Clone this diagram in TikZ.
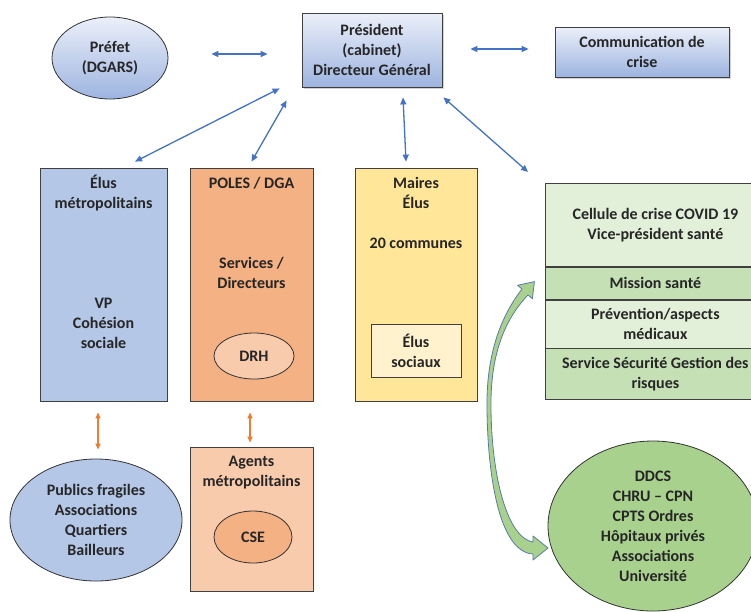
\documentclass[tikz,border=0pt]{standalone}
\usepackage{fontspec}
\setmainfont{Carlito}
\usetikzlibrary{arrows.meta}
\usetikzlibrary{shapes.geometric}
\usetikzlibrary{shadows}
\usetikzlibrary{positioning}

\definecolor{arrowblue}{HTML}{4472C4}
\definecolor{arroworange}{HTML}{ED7D31}
\definecolor{topblue}{HTML}{EBEFF9}
\definecolor{botblue}{HTML}{9DB4E0}
\definecolor{elusblue}{HTML}{B4C7E7}
\definecolor{polesorange}{HTML}{F4B183}
\definecolor{lightorange}{HTML}{F8CBAD}
\definecolor{mairesyellow}{HTML}{FFE699}
\definecolor{lightyellow}{HTML}{FFF2CC}
\definecolor{lightgreen}{HTML}{E2F0D9}
\definecolor{midgreen}{HTML}{C5E0B4}
\definecolor{santegreen}{HTML}{A9D18E}
\definecolor{curveline}{HTML}{5A7AA5}

\begin{document}
\begin{tikzpicture}[x=1pt,y=-1pt,
                    every node/.style={font=\fontsize{16}{20}\selectfont\bfseries,
                      align=center,
                      inner sep=0pt,
                      text=black!85},
                    box/.style={draw=black!75,
                      rectangle,
                      line width=0.8pt},
                    oval/.style={draw=black!80,
                      ellipse,
                      line width=0.8pt},
                    blueshade/.style={top color=topblue,
                      bottom color=botblue},
                    shadowed/.style={drop shadow={shadow xshift=1.5pt,
                      shadow yshift=-1.5pt,
                      opacity=0.35}},
                    stackbox/.style={box,
                      minimum width=220pt},
                    link/.style={arrowblue,
                      line width=1.3pt,
                      {Triangle[length=7pt,width=6pt]}-{Triangle[length=7pt,width=6pt]}},
                    orangelink/.style={arroworange,
                      line width=1.2pt,
                      {Triangle[length=6pt,width=5pt]}-{Triangle[length=6pt,width=5pt]}},
                    bigarrow/.style={fill=santegreen,
                      draw=curveline,
                      line width=0.8pt,
                      line join=round}]
\useasboundingbox (0,0) rectangle (751,611);
\fill[white] (0,0) rectangle (751,611);

\node (prefet) [oval, blueshade, minimum width=116pt, minimum height=82pt] at (110,58) {Préfet\\(DGARS)};
\node (pres) [box, blueshade, shadowed, minimum width=140pt, minimum height=74pt] at (372,50) {Président\\(cabinet)\\Directeur Général};
\node (comm) [box, blueshade, shadowed, minimum width=174pt, minimum height=50pt] at (642,52) {Communication de\\crise};

\node (elus) [box, fill=elusblue, minimum width=127pt, minimum height=233pt] at (103.5,284.5) {};
\node (elustop) at (103.5,193) {Élus\\métropolitains};
\node (vp) at (103.5,323) {VP\\Cohésion\\sociale};

\node (poles) [box, fill=polesorange, minimum width=123pt, minimum height=233pt] at (251.5,284.5) {};
\node (polestop) at (251.5,183) {POLES / DGA};
\node (services) at (251.5,273) {Services /\\Directeurs};
\node (drh) [oval, fill=lightorange, minimum width=80pt, minimum height=46pt] at (254,356) {DRH};

\node (maires) [box, fill=mairesyellow, minimum width=122pt, minimum height=233pt] at (416,284.5) {};
\node (mairestop) at (416,193) {Maires\\Élus};
\node (communes) at (416,243) {20 communes};
\node (sociaux) [box, fill=lightyellow, minimum width=90pt, minimum height=53pt] at (416,350.5) {Élus\\sociaux};

\node (cellule) [stackbox, fill=lightgreen, minimum height=83pt, anchor=north west] at (545,183) {Cellule de crise COVID 19\\Vice-président santé};
\node (mission) [stackbox, fill=midgreen, minimum height=32pt, below=0pt of cellule] {Mission santé};
\node (prevention) [stackbox, fill=lightgreen, minimum height=48pt, below=0pt of mission] {Prévention/aspects\\médicaux};
\node (securite) [stackbox, fill=midgreen, minimum height=51pt, below=0pt of prevention] {Service Sécurité Gestion des\\risques};

\node (publics) [oval, fill=elusblue, minimum width=172pt, minimum height=122pt] at (96,520) {Publics fragiles\\Associations\\Quartiers\\Bailleurs};
\node (agents) [box, fill=lightorange, minimum width=123pt, minimum height=144pt] at (251.5,519) {};
\node (agentstop) at (251.5,473) {Agents\\métropolitains};
\node (cse) [oval, fill=polesorange, minimum width=78pt, minimum height=52pt] at (253,537) {CSE};

\node (partenaires) [oval, fill=santegreen, minimum width=210pt, minimum height=170pt] at (653,526) {DDCS\\CHRU – CPN\\CPTS Ordres\\Hôpitaux privés\\Associations\\Université};

\draw[link] ([xshift=43pt,yshift=4pt]prefet.east) -- ([xshift=-34pt,yshift=-4pt]pres.west);
\draw[link] ([xshift=28pt,yshift=1pt]pres.east) -- ([xshift=-26pt,yshift=3pt]comm.west);
\draw[link] ([xshift=-22pt,yshift=-1pt]pres.south west) -- ([xshift=31.5pt,yshift=6pt]elus.north);
\draw[link] ([xshift=-15pt,yshift=-13pt]pres.south west) -- ([yshift=6pt]poles.north);
\draw[link] ([xshift=31pt,yshift=-10pt]pres.south) -- ([xshift=-10pt,yshift=6pt]maires.north);
\draw[link] ([xshift=1pt,yshift=-10pt]pres.south east) -- ([xshift=-17pt,yshift=11pt]cellule.north west);

\draw[orangelink] ([xshift=-5.5pt,yshift=-11pt]elus.south) -- ([xshift=2pt,yshift=9pt]publics.north);
\draw[orangelink] ([xshift=-1.5pt,yshift=-11pt]poles.south) -- ([xshift=-1.5pt,yshift=4pt]agents.north);

\draw[bigarrow] (534.4,281.6) -- (517.6,285.3) -- (522,289)
  .. controls (498,320) and (486,360) .. (487,410)
  .. controls (488,480) and (500,552) .. (533,554) -- (533,560) -- (548,548) -- (533,536) -- (533,542)
  .. controls (508,538) and (492,480) .. (491,410)
  .. controls (490,360) and (502,322) .. (528,295) -- (532.4,298.7) -- cycle;
\end{tikzpicture}
\end{document}
